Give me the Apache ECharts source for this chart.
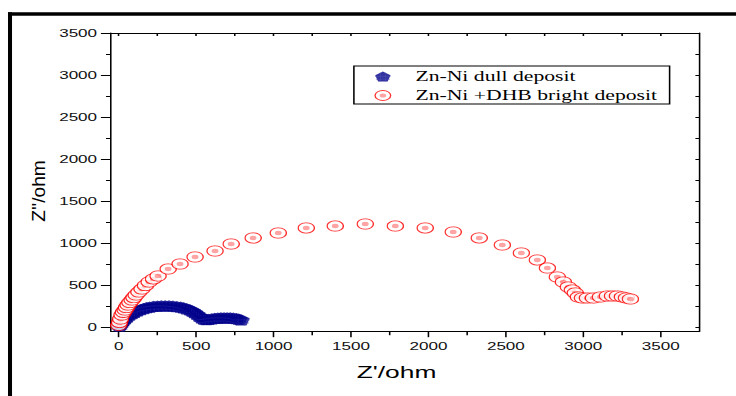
<!DOCTYPE html>
<html>
<head>
<meta charset="utf-8">
<script src="https://cdn.jsdelivr.net/npm/echarts@6/dist/echarts.min.js"></script>
<style>
  html, body { margin: 0; padding: 0; background: #fff; overflow: hidden; }
  #wrap { width: 736px; height: 396px; overflow: hidden; }
  /* the figure is laid out narrow and stretched sideways, like the printed plot */
  #chart { width: 475px; height: 396px; transform: scaleX(1.54947); transform-origin: 0 0; }
</style>
</head>
<body>
<div id="wrap"><div id="chart"></div></div>
<script>
// Nyquist data, Z' (ohm) vs Z'' (ohm)
const dullName = 'Zn-Ni dull deposit';
const brightName = 'Zn-Ni +DHB bright deposit';

const dullDeposit = [
  [5, 10], [12, 30], [20, 52], [30, 75], [42, 100], [55, 122], [70, 143], [85, 160],
  [100, 175], [120, 192], [140, 207], [160, 220], [180, 230], [200, 238], [225, 245],
  [250, 249], [275, 251], [300, 252], [325, 251], [350, 248], [375, 243], [400, 236],
  [420, 228], [440, 217], [460, 203], [475, 190], [490, 172], [505, 152], [520, 130],
  [535, 110], [550, 95], [565, 88], [580, 90], [600, 98], [620, 104], [640, 107],
  [660, 108], [680, 109], [700, 109], [720, 108], [740, 105], [760, 100], [775, 93], [790, 85]
];

const brightDeposit = [
  [0, 20], [5, 55], [12, 95], [21, 143], [30, 175], [41, 202], [50, 232], [60, 262],
  [72, 292], [86, 321], [98, 350], [112, 381], [130, 416], [150, 452], [172, 494],
  [196, 536], [224, 572], [254, 607], [319, 690], [396, 750], [493, 833], [622, 905],
  [726, 988], [868, 1060], [1030, 1119], [1211, 1179], [1398, 1202], [1592, 1226],
  [1786, 1202], [1979, 1179], [2160, 1131], [2328, 1060], [2477, 976], [2600, 881],
  [2703, 798], [2768, 702], [2832, 595], [2871, 536], [2903, 476], [2929, 440],
  [2948, 405], [2968, 357], [2994, 345], [3026, 345], [3065, 345], [3110, 357],
  [3155, 369], [3188, 369], [3220, 369], [3252, 357], [3278, 345], [3304, 333]
];

// tick positions
const xMajor = [0, 500, 1000, 1500, 2000, 2500, 3000, 3500];
const xMinor = [250, 750, 1250, 1750, 2250, 2750, 3250];
const xTop = [0, 250, 500, 750, 1000, 1250, 1500, 1750, 2000, 2250, 2500, 2750, 3000, 3250, 3500];
const yMajor = [0, 500, 1000, 1500, 2000, 2500, 3000, 3500];
const yMinor = [250, 750, 1250, 1750, 2250, 2750, 3250];
const yRight = [0, 250, 500, 750, 1000, 1250, 1500, 1750, 2000, 2250, 2500, 2750, 3000, 3250];

const xRange = [-50, 3750];
const yRange = [-50, 3500];

function svgUri(s) { return 'image://data:image/svg+xml;utf8,' + encodeURIComponent(s); }

// open circle with a soft centre dot
const ringSymbol = svgUri(
  '<svg xmlns="http://www.w3.org/2000/svg" width="24" height="24" viewBox="0 0 24 24">' +
  '<circle cx="12" cy="12" r="11" fill="#fff" stroke="#ff0000" stroke-width="1.9"/>' +
  '<circle cx="12" cy="12" r="4.6" fill="#ff8e8e"/></svg>');

// filled pentagon with a faint grid
const pentSymbol = svgUri(
  '<svg xmlns="http://www.w3.org/2000/svg" width="20" height="20" viewBox="0 0 20 20">' +
  '<path d="M10 1 L19 7.5 L15.6 19 L4.4 19 L1 7.5 Z" fill="#00008a"/>' +
  '<path d="M7 3 V19 M13 3 V19 M1 10 H19 M2 15 H18" stroke="#2020a0" stroke-width="0.8" fill="none"/></svg>');

const font = "'Liberation Sans', Arial, sans-serif";
const axisColor = '#000';
const plain = (v) => String(v);

const chart = echarts.init(document.getElementById('chart'), null, { renderer: 'svg' });

const baseAxis = (extra) => Object.assign({
  type: 'value',
  splitLine: { show: false },
  axisLine: { show: true, onZero: false, lineStyle: { color: axisColor, width: 1 } },
  axisTick: { show: false },
  axisLabel: { show: false }
}, extra);

chart.setOption({
  backgroundColor: '#fff',
  animation: false,
  grid: { left: 71.63, right: 23.6, top: 33, bottom: 64.8, containLabel: false },
  xAxis: [
    baseAxis({
      position: 'bottom', min: xRange[0], max: xRange[1],
      axisTick: { show: true, inside: false, length: 6, customValues: xMajor, lineStyle: { color: axisColor } },
      axisLabel: { show: true, customValues: xMajor, formatter: plain, margin: 9, fontSize: 11, fontFamily: font, color: '#111' }
    }),
    baseAxis({
      position: 'bottom', min: xRange[0], max: xRange[1],
      axisLine: { show: false, onZero: false },
      axisTick: { show: true, inside: false, length: 4, customValues: xMinor, lineStyle: { color: axisColor } }
    }),
    baseAxis({
      position: 'top', min: xRange[0], max: xRange[1],
      axisTick: { show: true, inside: true, length: 3, customValues: xTop, lineStyle: { color: axisColor } }
    })
  ],
  yAxis: [
    baseAxis({
      position: 'left', min: yRange[0], max: yRange[1],
      axisTick: { show: true, inside: false, length: 6.5, customValues: yMajor, lineStyle: { color: axisColor } },
      axisLabel: { show: true, customValues: yMajor, formatter: plain, margin: 9, fontSize: 11, fontFamily: font, color: '#111' }
    }),
    baseAxis({
      position: 'left', min: yRange[0], max: yRange[1],
      axisLine: { show: false, onZero: false },
      axisTick: { show: true, inside: false, length: 3.2, customValues: yMinor, lineStyle: { color: axisColor } }
    }),
    baseAxis({
      position: 'right', min: yRange[0], max: yRange[1],
      axisTick: { show: true, inside: true, length: 2.6, customValues: yRight, lineStyle: { color: axisColor } }
    })
  ],
  legend: {
    orient: 'vertical',
    left: 228.4, top: 66,
    padding: [2, 8, 0, 2.7],
    itemGap: 2,
    itemWidth: 32, itemHeight: 11,
    borderColor: '#000', borderWidth: 1, borderRadius: 0,
    backgroundColor: '#fff',
    selectedMode: false,
    textStyle: { fontFamily: "'Liberation Serif', 'Times New Roman', serif", fontSize: 14, lineHeight: 17, color: '#000' },
    data: [dullName, brightName]
  },
  series: [
    {
      name: dullName, type: 'scatter',
      xAxisIndex: 0, yAxisIndex: 0,
      symbol: pentSymbol, symbolSize: 12.5,
      data: dullDeposit,
      itemStyle: { color: '#00008a' },
      z: 2
    },
    {
      name: brightName, type: 'scatter',
      xAxisIndex: 0, yAxisIndex: 0,
      symbol: ringSymbol, symbolSize: 11.5,
      data: brightDeposit,
      itemStyle: { color: '#ff0000' },
      z: 3
    }
  ],
  graphic: [
    // heavy frame along the top and left
    { type: 'rect', shape: { x: 5.16, y: 12.3, width: 480, height: 3.5 }, style: { fill: '#000' }, silent: true },
    { type: 'rect', shape: { x: 5.16, y: 12.3, width: 2.6, height: 400 }, style: { fill: '#000' }, silent: true },
    // axis titles
    {
      type: 'text', x: 255.9, y: 372, silent: true,
      style: { text: "Z'/ohm", fontSize: 17, fontFamily: font, fill: '#000', align: 'center', verticalAlign: 'middle' }
    },
    {
      type: 'text', x: 24.7, y: 191, rotation: Math.PI / 2, scaleX: 1.6, silent: true,
      style: { text: "Z''/ohm", fontSize: 12, fontFamily: font, fill: '#000', align: 'center', verticalAlign: 'middle' }
    }
  ]
});
</script>
</body>
</html>
